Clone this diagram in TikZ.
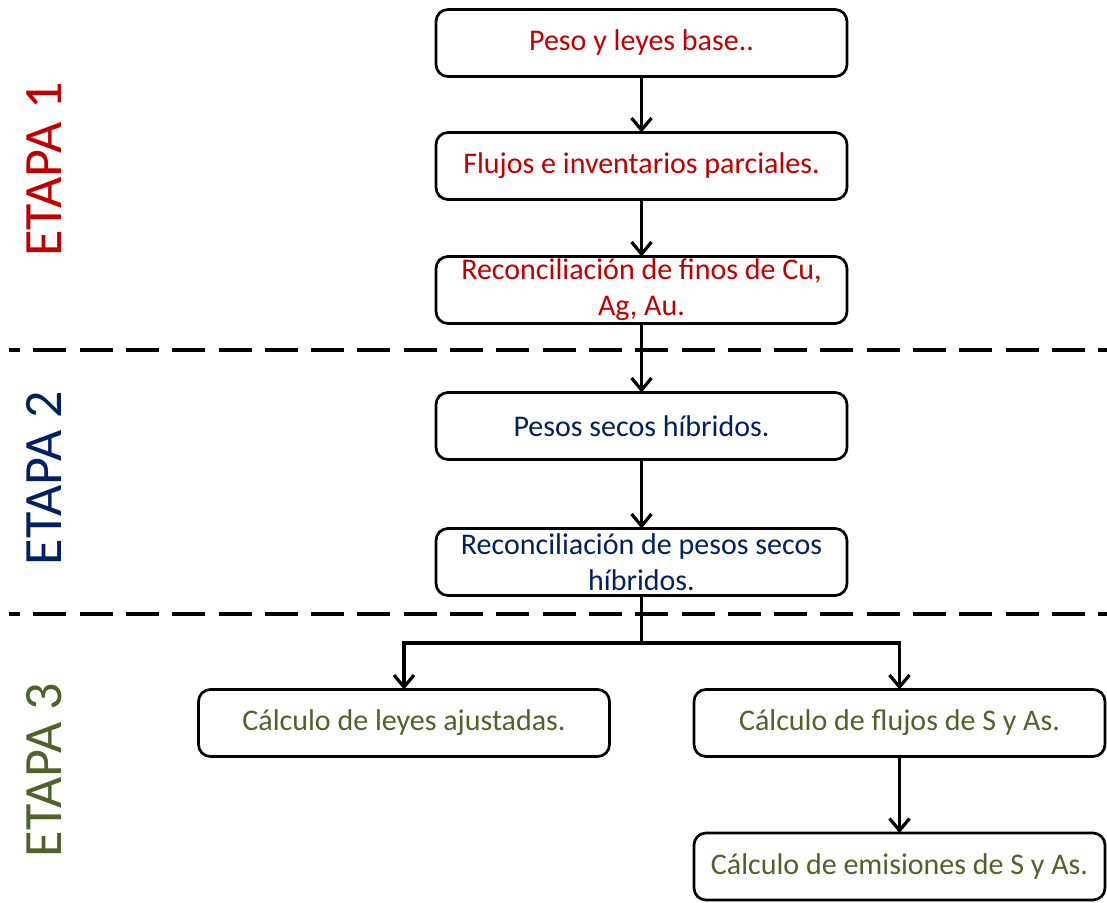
\documentclass[tikz,border=0pt]{standalone}
\usepackage{fontspec}
\setmainfont{Carlito}
\usetikzlibrary{arrows.meta}
\definecolor{cred}{HTML}{C00000}
\definecolor{cblue}{HTML}{002060}
\definecolor{cgreen}{HTML}{4F6228}
\tikzset{
  box/.style={draw=black, line width=2.7pt, rounded corners=12pt, minimum width=411pt, minimum height=67pt,
    inner sep=0pt, outer sep=0pt, align=center, font=\fontsize{30}{36}\selectfont},
  arr/.style={line width=3.2pt, -{Straight Barb[length=12pt,width=20pt]}},
  sep/.style={line width=4pt, dash pattern=on 33pt off 13.3pt, dash phase=22pt},
  etapa/.style={rotate=90, font=\fontsize{54}{60}\selectfont, inner sep=0pt}
}
\begin{document}
\begin{tikzpicture}[x=1pt,y=-1pt]
\useasboundingbox (0,0) rectangle (1107,902);
% separators
\coordinate (s1a) at (9,350); \coordinate (s1b) at (1107,350);
\coordinate (s2a) at (9,614); \coordinate (s2b) at (1107,614);
\draw[sep] (s1a) -- (s1b);
\draw[sep] (s2a) -- (s2b);
% stage labels
\node[etapa, text=cred] (e1) at (44,169.5) {ETAPA 1};
\node[etapa, text=cblue] (e2) at (44,478) {ETAPA 2};
\node[etapa, text=cgreen] (e3) at (44,770) {ETAPA 3};
% boxes
\node[box, text=cred] (b1) at (641.5,43) {Peso y leyes base..};
\node[box, text=cred] (b2) at (641.5,166) {Flujos e inventarios parciales.};
\node[box, text=cred] (b3) at (641.5,290) {Reconciliación de finos de Cu,\\Ag, Au.};
\node[box, text=cblue] (b4) at (641.5,426) {Pesos secos híbridos.};
\node[box, text=cblue] (b5) at (641.5,562) {Reconciliación de pesos secos\\híbridos.};
\node[box, text=cgreen] (b6) at (404,723) {Cálculo de leyes ajustadas.};
\node[box, text=cgreen] (b7) at (899.5,723) {Cálculo de flujos de S y As.};
\node[box, text=cgreen] (b8) at (899.5,866.5) {Cálculo de emisiones de S y As.};
% connectors
\draw[arr] (b1) -- (b2);
\draw[arr] (b2) -- (b3);
\draw[arr] (b3) -- (b4);
\draw[arr] (b4) -- (b5);
\coordinate (j) at (641.5,643);
\draw[line width=3.2pt] (b5.south) -- (j);
\draw[arr] (j) -| (b6.north);
\draw[arr] (j) -| (b7.north);
\draw[arr] (b7) -- (b8);
\end{tikzpicture}
\end{document}
